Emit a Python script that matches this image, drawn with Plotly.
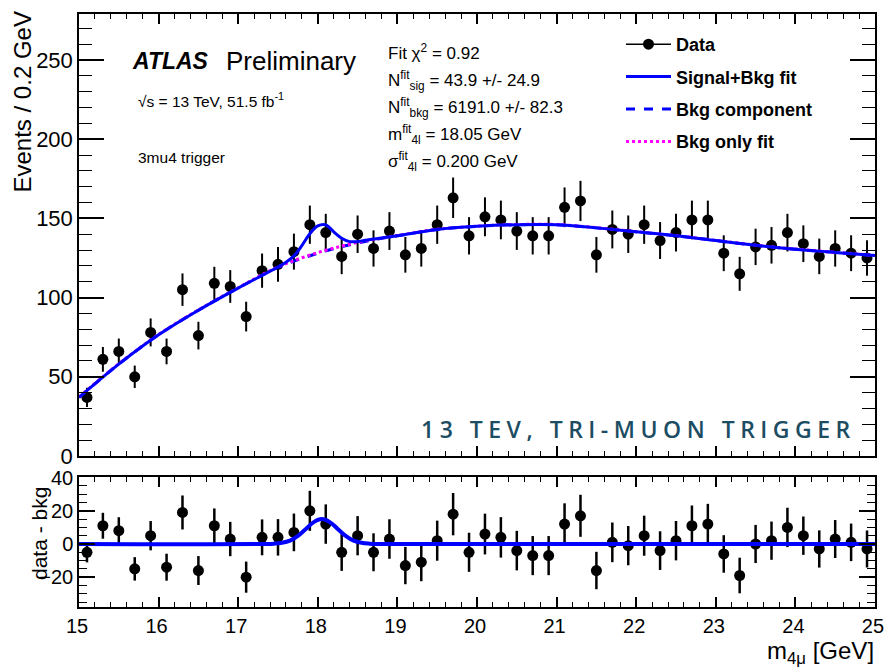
import numpy as np
import plotly.graph_objects as go

# ---------------- data ----------------
bin_width = 0.2
bin_centers = np.round(np.arange(15.1, 25.0, bin_width), 2)

events = [37, 61, 66, 50, 78, 66, 105, 76, 109, 107,
          88, 117, 121, 129, 146, 141, 126, 140, 131, 142,
          127, 131, 146, 163, 139, 151, 149, 142, 139, 139,
          157, 161, 127, 143, 140, 146, 136, 141, 149, 149,
          128, 115, 132, 133, 141, 134, 126, 131, 128, 125]

residuals = [-5, 11, 8, -15, 5, -14, 19, -16, 11, 3,
             -20, 4, 4, 7, 20, 12, -5, 5, -5, 3,
             -13, -11, 2, 18, -5, 6, 4, -4, -7, -7,
             12, 17, -16, 1, -1, 5, -4, 2, 11, 12,
             -6, -19, 0, 2, 10, 5, -3, 3, 1, -3]

# background component curve
bkg_x = [15.0, 15.5, 16.0, 16.5, 17.0, 17.5, 18.0, 18.5, 19.0, 19.5, 20.0,
         20.5, 21.0, 21.5, 22.0, 22.5, 23.0, 23.5, 24.0, 24.5, 25.0]
bkg_y = [37, 58, 76.5, 92, 106, 119, 128, 134.5, 139, 143, 145,
         146, 146, 144, 141.5, 139, 136, 133, 130.5, 128.5, 126.5]

# background-only fit (overlaps the background component)
bkgonly_x = bkg_x
bkgonly_y = [37.2, 58.2, 76.7, 92.2, 106.2, 119.3, 128.4, 134.8, 139.2, 143.1, 145.1,
             146.1, 146.1, 144.1, 141.6, 139.1, 136.1, 133.1, 130.6, 128.6, 126.6]

# signal + background fit curve
sb_x = [15.0, 15.5, 16.0, 16.5, 17.0, 17.5, 17.6, 17.7, 17.8, 17.9, 18.0, 18.1,
        18.2, 18.3, 18.4, 18.5, 18.6, 19.0, 19.5, 20.0, 20.5, 21.0, 21.5, 22.0,
        22.5, 23.0, 23.5, 24.0, 24.5, 25.0]
sb_y = [37, 58, 76.5, 92, 106, 119.3, 122.3, 126.3, 132.8, 140.3, 145.2, 145.9,
        141.5, 137.5, 135.3, 135.4, 136.2, 139, 143, 145, 146, 146, 144, 141.5,
        139, 136, 133, 130.5, 128.5, 126.5]

# signal component shown in the lower panel
sig_x = [15.0, 17.35, 17.45, 17.55, 17.65, 17.75, 17.85, 17.95, 18.05,
         18.15, 18.25, 18.35, 18.45, 18.55, 18.65, 18.75, 25.0]
sig_y = [0, 0, 0.2, 0.7, 2.0, 4.9, 9.1, 13.2, 15.0,
         13.2, 9.1, 4.9, 2.0, 0.7, 0.2, 0, 0]

x_ticks = [15, 16, 17, 18, 19, 20, 21, 22, 23, 24, 25]

errors = np.sqrt(np.array(events, dtype=float))

# ---------------- geometry helpers ----------------
W, H = 884, 669
ML, MR, MT, MB = 79, 9, 14, 62
PW, PH = W - ML - MR, H - MT - MB


def px(x):
    return (x - ML) / PW


def py(y):
    return (H - MB - y) / PH


FONT = "Liberation Sans"
BLUE = "#0000ff"
MAGENTA = "#ff00ff"

fig = go.Figure()

# ---------------- upper panel ----------------
fig.add_trace(go.Scatter(
    x=bin_centers, y=events, mode="markers",
    marker=dict(symbol="circle", size=11, color="black"),
    error_y=dict(type="data", array=errors, visible=True, color="black",
                 thickness=2, width=0),
    showlegend=False, xaxis="x", yaxis="y"))

fig.add_trace(go.Scatter(
    x=bkg_x, y=bkg_y, mode="lines", name="Bkg component",
    line=dict(color=BLUE, width=3, dash="dash", shape="spline", smoothing=1),
    legendgroup="c", legendrank=3, xaxis="x", yaxis="y"))

fig.add_trace(go.Scatter(
    x=bkgonly_x, y=bkgonly_y, mode="lines", name="Bkg only fit",
    line=dict(color=MAGENTA, width=3, dash="dot", shape="spline", smoothing=1),
    legendgroup="d", legendrank=4, xaxis="x", yaxis="y"))

fig.add_trace(go.Scatter(
    x=sb_x, y=sb_y, mode="lines", name="Signal+Bkg fit",
    line=dict(color=BLUE, width=3, shape="spline", smoothing=1),
    legendgroup="b", legendrank=2, xaxis="x", yaxis="y"))

# legend entry for the data
fig.add_trace(go.Scatter(
    x=[None], y=[None], mode="lines+markers", name="Data",
    line=dict(color="black", width=1.5),
    marker=dict(symbol="circle", size=11, color="black"),
    legendgroup="a", legendrank=1, xaxis="x", yaxis="y"))

# ---------------- lower panel ----------------
fig.add_trace(go.Scatter(
    x=bin_centers, y=residuals, mode="markers",
    marker=dict(symbol="circle", size=11, color="black"),
    error_y=dict(type="data", array=errors, visible=True, color="black",
                 thickness=2.5, width=0),
    showlegend=False, xaxis="x2", yaxis="y2"))

fig.add_trace(go.Scatter(
    x=sig_x, y=sig_y, mode="lines",
    line=dict(color=BLUE, width=4, shape="spline", smoothing=1),
    showlegend=False, xaxis="x2", yaxis="y2"))

# ---------------- axes ----------------
lower_top = py(477)
upper_bot = py(456)

common_x = dict(range=[14.9999, 25.0001], showline=True, linecolor="black",
                linewidth=1.5, mirror="ticks", ticks="inside", ticklen=10,
                tickwidth=1.5, tickcolor="black", tickvals=x_ticks,
                ticktext=[str(t) for t in x_ticks], automargin=False,
                showgrid=False, zeroline=False, ticklabeloverflow="allow",
                minor=dict(ticks="inside", ticklen=5, tickwidth=1.2,
                           tickcolor="black", dtick=0.2, tick0=15, showgrid=False))

fig.update_layout(
    xaxis=dict(**common_x, anchor="y", domain=[0, 1], showticklabels=False),
    xaxis2=dict(**common_x, anchor="y2", domain=[0, 1], showticklabels=True,
                ticklabelshift=-2,
                tickfont=dict(family=FONT, size=20, color="black")),
    yaxis=dict(range=[0, 279], domain=[upper_bot, 1], anchor="x",
               showline=True, linecolor="black", linewidth=1.5, mirror="ticks",
               ticks="inside", ticklen=25, tickwidth=1.5, tickcolor="black",
               dtick=50, tick0=0, showgrid=False, zeroline=False, automargin=False,
               tickfont=dict(family=FONT, size=22, color="black"),
               minor=dict(ticks="inside", ticklen=13, tickwidth=1.2,
                          tickcolor="black", dtick=10, showgrid=False)),
    yaxis2=dict(range=[-38, 40.4], domain=[0, lower_top], anchor="x2",
                showline=True, linecolor="black", linewidth=1.5, mirror="ticks",
                ticks="inside", ticklen=16, tickwidth=1.5, tickcolor="black",
                tickvals=[-20, 0, 20, 40], showgrid=False, zeroline=False,
                automargin=False,
                tickfont=dict(family=FONT, size=20, color="black"),
                minor=dict(ticks="inside", ticklen=8, tickwidth=1.2,
                           tickcolor="black", dtick=5, tick0=0, showgrid=False)),
)

# ---------------- annotations ----------------
ann = []


def add_text(text, x, y, size, xanchor="left", yanchor="middle", color="black",
             family=FONT, angle=0, weight="normal"):
    ann.append(dict(text=text, x=px(x), y=py(y), xref="paper", yref="paper",
                    xanchor=xanchor, yanchor=yanchor, showarrow=False,
                    textangle=angle,
                    font=dict(family=family, size=size, color=color, weight=weight)))


add_text("<b><i>ATLAS</i></b>", 130, 61, 23)
add_text("Preliminary", 224, 61, 26)
add_text("√s = 13 TeV, 51.5 fb<sup>-1</sup>", 136, 100, 15.5)
add_text("3mu4 trigger", 136, 157, 15.5)

add_text("Fit χ<sup>2</sup> = 0.92", 386, 52, 17)
add_text("N<sup>fit</sup><sub>sig</sub> = 43.9 +/- 24.9", 386, 80, 17)
add_text("N<sup>fit</sup><sub>bkg</sub> = 6191.0 +/- 82.3", 386, 107, 17)
add_text("m<sup>fit</sup><sub>4l</sub> = 18.05 GeV", 386, 134, 17)
add_text("σ<sup>fit</sup><sub>4l</sub> = 0.200 GeV", 386, 161, 17)

add_text('<span style="letter-spacing:5.5px">13 TEV, TRI-MUON TRIGGER</span>',
         858, 429, 23, xanchor="right", color="#1c4d63", family="Open Sans",
         weight=600)

add_text("Events / 0.2 GeV", 22, 10, 24, xanchor="center", yanchor="top", angle=-90)
add_text("data - bkg", 39, 534, 21, xanchor="center", yanchor="middle", angle=-90)
add_text("m<sub>4μ</sub> [GeV]", 876, 652, 24, xanchor="right", yanchor="middle")

fig.update_layout(
    annotations=ann,
    width=W, height=H,
    margin=dict(l=ML, r=MR, t=MT, b=MB, pad=0, autoexpand=False),
    paper_bgcolor="white", plot_bgcolor="white",
    showlegend=True,
    legend=dict(x=px(621), y=py(26), xanchor="left", yanchor="top",
                bgcolor="rgba(0,0,0,0)", borderwidth=0,
                traceorder="grouped", tracegroupgap=6, itemwidth=45,
                font=dict(family=FONT, size=18, color="black", weight="bold")),
)

fig.write_html("out.html")
